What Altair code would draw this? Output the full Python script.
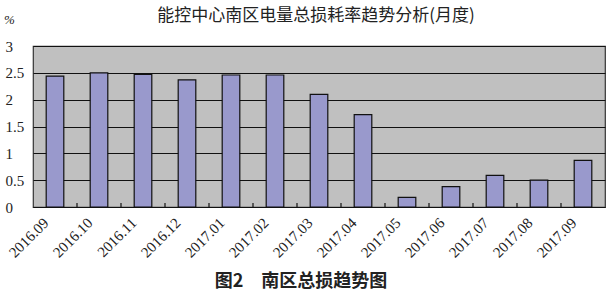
import altair as alt
import pandas as pd

months = ["2016.09", "2016.10", "2016.11", "2016.12", "2017.01", "2017.02", "2017.03",
          "2017.04", "2017.05", "2017.06", "2017.07", "2017.08", "2017.09"]
values = [2.44, 2.50, 2.47, 2.37, 2.46, 2.46, 2.10, 1.72, 0.18, 0.38, 0.59, 0.50, 0.87]
y_ticks = [0, 0.5, 1, 1.5, 2, 2.5, 3]
title_text = "能控中心南区电量总损耗率趋势分析(月度)"
caption_text = "图2　南区总损趋势图"
unit_text = "%"

df = pd.DataFrame({"month": months, "value": values})

W, H = 572, 161

x_enc = alt.X("month:N", sort=months,
              scale=alt.Scale(paddingInner=0.6, paddingOuter=0.3),
              axis=alt.Axis(title=None, labelAngle=-45, labelAlign="right",
                            labelBaseline="middle", labelPadding=13, labelOffset=-9,
                            ticks=False, tickSize=0, domain=False,
                            labelFont="Liberation Serif", labelFontSize=15,
                            labelColor="#222222"))
y_enc = alt.Y("value:Q", scale=alt.Scale(domain=[0, 3], nice=False),
              axis=alt.Axis(title=None, values=y_ticks, format=".1~f",
                            ticks=False, tickSize=0, domain=False,
                            labelAlign="left", labelPadding=28,
                            labelFont="Liberation Serif", labelFontSize=15,
                            labelColor="#222222",
                            grid=True, gridColor="#111111", gridWidth=1))

base = alt.Chart(df)

bars = base.mark_bar(fill="#9999CC", stroke="#111111", strokeWidth=1.2).encode(
    x=x_enc, y=y_enc)

ticks = base.transform_filter(alt.datum.month != months[-1]).mark_rule(
    color="#111111", strokeWidth=1.2, xOffset=22).encode(
    x=alt.X("month:N", sort=months), y=alt.value(H), y2=alt.value(H - 4))

title = alt.Chart(pd.DataFrame({"t": [title_text]})).mark_text(
    font="Noto Sans CJK SC", fontSize=17, color="#222222").encode(
    text="t:N", x=alt.value(283), y=alt.value(-30))

unit = alt.Chart(pd.DataFrame({"t": [unit_text]})).mark_text(
    font="Liberation Serif", fontSize=13, fontStyle="italic", color="#222222", align="left").encode(
    text="t:N", x=alt.value(-29), y=alt.value(-26))

caption = alt.Chart(pd.DataFrame({"t": [caption_text]})).mark_text(
    font="Noto Sans CJK SC", fontSize=18, fontWeight="bold", color="#222222").encode(
    text="t:N", x=alt.value(268), y=alt.value(236))

chart = alt.layer(bars, ticks, title, unit, caption).resolve_scale(x="shared").properties(
    width=W, height=H,
    autosize=alt.AutoSizeParams(type="none"),
    padding={"left": 33, "top": 46, "right": 6, "bottom": 89},
    background="white",
).configure_view(fill="#C0C0C0", stroke="#333333", strokeWidth=1.2)

chart.save("out.html", embed_options={"renderer": "svg", "actions": False})
